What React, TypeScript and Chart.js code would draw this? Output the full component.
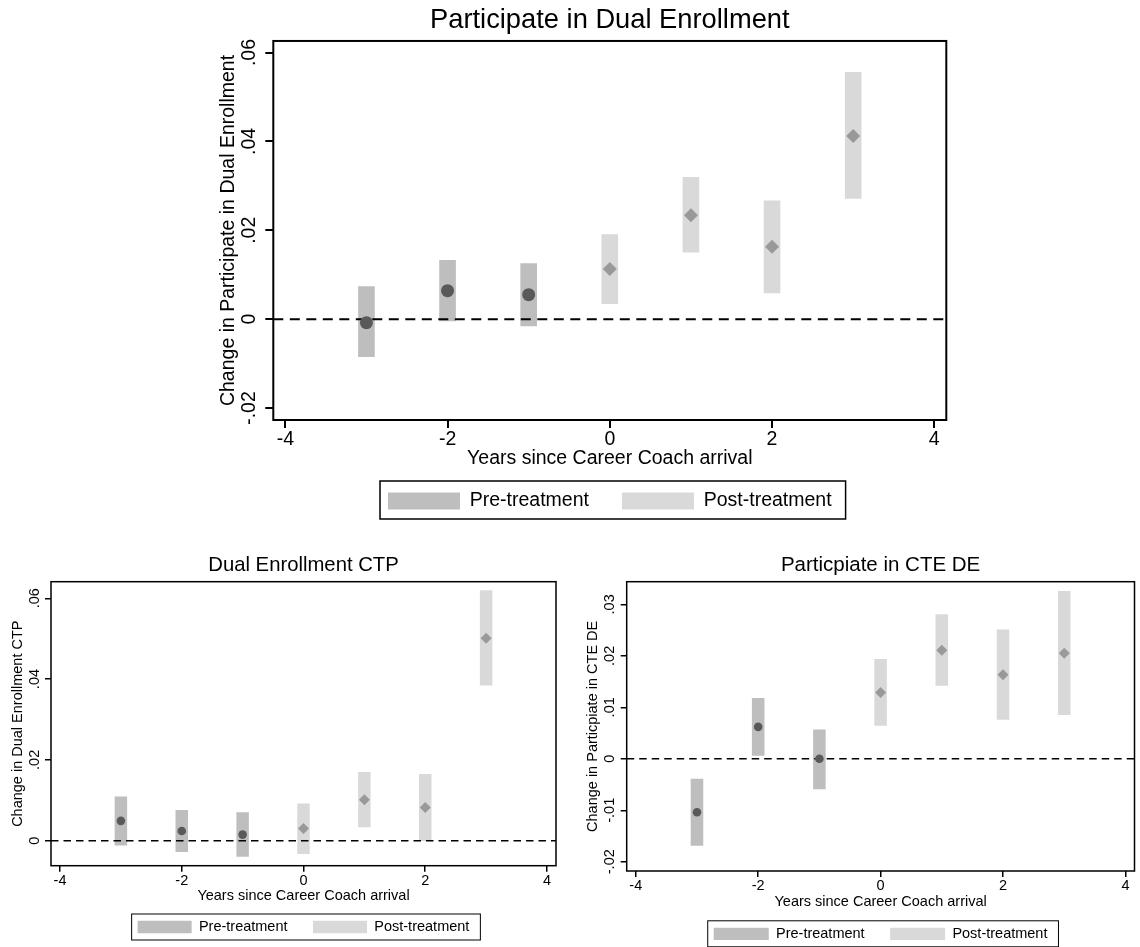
import React, { useEffect, useRef } from "react";
import { Chart, registerables } from "chart.js";

Chart.register(...registerables);

// ---------------- data ----------------
const YEARS_PRE = [-3, -2, -1];
const YEARS_POST = [0, 1, 2, 3];
const X_TICKS = [-4, -2, 0, 2, 4];
const X_TICK_LABELS = ["-4", "-2", "0", "2", "4"];
const X_TITLE = "Years since Career Coach arrival";
const LEGEND_LABELS = ["Pre-treatment", "Post-treatment"];

// Panel 1: Participate in Dual Enrollment
const DE_PRE_EST = [-0.0008, 0.0064, 0.0055];
const DE_PRE_LO = [-0.0085, -0.0005, -0.0016];
const DE_PRE_HI = [0.0074, 0.0133, 0.0126];
const DE_POST_EST = [0.0113, 0.0234, 0.0163, 0.0412];
const DE_POST_LO = [0.0034, 0.015, 0.0058, 0.0271];
const DE_POST_HI = [0.0191, 0.032, 0.0267, 0.0556];
const DE_Y_TICKS = [-0.02, 0, 0.02, 0.04, 0.06];
const DE_Y_LABELS = ["-.02", "0", ".02", ".04", ".06"];

// Panel 2: Dual Enrollment CTP
const CTP_PRE_EST = [0.0049, 0.0024, 0.0015];
const CTP_PRE_LO = [-0.0012, -0.0028, -0.004];
const CTP_PRE_HI = [0.0109, 0.0076, 0.007];
const CTP_POST_EST = [0.003, 0.0101, 0.0082, 0.0501];
const CTP_POST_LO = [-0.0033, 0.0033, -0.0001, 0.0384];
const CTP_POST_HI = [0.0092, 0.017, 0.0165, 0.062];
const CTP_Y_TICKS = [0, 0.02, 0.04, 0.06];
const CTP_Y_LABELS = ["0", ".02", ".04", ".06"];

// Panel 3: Particpiate in CTE DE
const CTE_PRE_EST = [-0.0104, 0.0062, 0.0];
const CTE_PRE_LO = [-0.0169, 0.0006, -0.0059];
const CTE_PRE_HI = [-0.0039, 0.0118, 0.0057];
const CTE_POST_EST = [0.0129, 0.0211, 0.0163, 0.0205];
const CTE_POST_LO = [0.0064, 0.0142, 0.0076, 0.0085];
const CTE_POST_HI = [0.0194, 0.0281, 0.0251, 0.0326];
const CTE_Y_TICKS = [-0.02, -0.01, 0, 0.01, 0.02, 0.03];
const CTE_Y_LABELS = ["-.02", "-.01", "0", ".01", ".02", ".03"];

// ---------------- styles ----------------
const FONT = "'Liberation Sans', Arial, Helvetica, sans-serif";
const PRE_BAR = "#bebebe";
const POST_BAR = "#d9d9d9";
const PRE_PT = "#595959";
const POST_PT = "#999999";
const X_MIN = -4.148;
const X_MAX = 4.148;

type PanelCfg = {
  box: { x: number; y: number; w: number; h: number };
  pad: { left: number; right: number; top: number; bottom: number };
  title: string;
  titleSize: number;
  titlePadTop: number;
  titlePadBottom: number;
  yTitle: string;
  axisFont: number;
  yMin: number;
  yMax: number;
  yTicks: number[];
  yLabels: string[];
  yAxisWidth: number;
  yTitlePad: number;
  yTickLen: number;
  yTickPad: number;
  xAxisHeight: number;
  xTickLen: number;
  xTickPad: number;
  xTitlePadBottom: number;
  legBoxW: number;
  legBoxH: number;
  legPad: number;
  legMaxH?: number;
  legMargin: { l: number; r: number; t: number; b: number };
  legLine: number;
  frameW: number;
  dash: number[];
  dashW: number;
  circleR: number;
  diamondR: number;
  preEst: number[];
  preLo: number[];
  preHi: number[];
  postEst: number[];
  postLo: number[];
  postHi: number[];
};

const decorPlugin = {
  id: "stataDecor",
  beforeDatasetsDraw(chart: any) {
    chart.$zeroDrawn = false;
  },
  beforeDatasetDraw(chart: any, args: any, opts: any) {
    if (args.meta.type === "scatter" && !chart.$zeroDrawn) {
      chart.$zeroDrawn = true;
      const { ctx, chartArea } = chart;
      const y = chart.scales.y.getPixelForValue(0);
      ctx.save();
      ctx.beginPath();
      ctx.rect(chartArea.left, chartArea.top, chartArea.right - chartArea.left, chartArea.bottom - chartArea.top);
      ctx.clip();
      ctx.strokeStyle = "#000";
      ctx.lineWidth = opts.dashW;
      ctx.setLineDash(opts.dash);
      ctx.beginPath();
      ctx.moveTo(chartArea.left, y);
      ctx.lineTo(chartArea.right, y);
      ctx.stroke();
      ctx.restore();
    }
  },
  afterDraw(chart: any, _args: any, opts: any) {
    const { ctx, chartArea } = chart;
    ctx.save();
    ctx.strokeStyle = "#000";
    ctx.lineWidth = opts.frameW;
    ctx.strokeRect(chartArea.left, chartArea.top, chartArea.right - chartArea.left, chartArea.bottom - chartArea.top);
    const hb = chart.legend && chart.legend.legendHitBoxes;
    if (hb && hb.length) {
      let l = Infinity;
      let r = -Infinity;
      let t = Infinity;
      let b = -Infinity;
      for (const h of hb) {
        l = Math.min(l, h.left);
        r = Math.max(r, h.left + h.width);
        t = Math.min(t, h.top + h.height / 2);
        b = Math.max(b, h.top + h.height / 2);
      }
      const m = opts.legMargin;
      ctx.lineWidth = opts.legLine;
      ctx.strokeRect(l - m.l, t - m.t, r - l + m.l + m.r, b - t + m.t + m.b);
    }
    ctx.restore();
  },
};

function buildConfig(p: PanelCfg): any {
  const preBars = YEARS_PRE.map((x, i) => ({ x, y: [p.preLo[i], p.preHi[i]] }));
  const postBars = YEARS_POST.map((x, i) => ({ x, y: [p.postLo[i], p.postHi[i]] }));
  const prePts = YEARS_PRE.map((x, i) => ({ x, y: p.preEst[i] }));
  const postPts = YEARS_POST.map((x, i) => ({ x, y: p.postEst[i] }));
  const axisFont = { size: p.axisFont, family: FONT, weight: "normal" as const };
  return {
    type: "bar",
    data: {
      datasets: [
        {
          label: LEGEND_LABELS[0],
          data: preBars,
          backgroundColor: PRE_BAR,
          borderWidth: 0,
          grouped: false,
          barPercentage: 0.205,
          categoryPercentage: 1,
          order: 2,
        },
        {
          label: LEGEND_LABELS[1],
          data: postBars,
          backgroundColor: POST_BAR,
          borderWidth: 0,
          grouped: false,
          barPercentage: 0.205,
          categoryPercentage: 1,
          order: 2,
        },
        {
          type: "scatter",
          label: "pre-est",
          data: prePts,
          pointStyle: "circle",
          pointRadius: p.circleR,
          backgroundColor: PRE_PT,
          pointBackgroundColor: PRE_PT,
          borderWidth: 0,
          pointBorderWidth: 0,
          order: 1,
        },
        {
          type: "scatter",
          label: "post-est",
          data: postPts,
          pointStyle: "rectRot",
          pointRadius: p.diamondR,
          backgroundColor: POST_PT,
          pointBackgroundColor: POST_PT,
          borderWidth: 0,
          pointBorderWidth: 0,
          order: 1,
        },
      ],
    },
    options: {
      responsive: false,
      animation: false,
      devicePixelRatio: 1,
      events: [],
      layout: { padding: p.pad },
      scales: {
        x: {
          type: "linear",
          min: X_MIN,
          max: X_MAX,
          offset: false,
          afterBuildTicks: (s: any) => {
            s.ticks = X_TICKS.map((v) => ({ value: v }));
          },
          afterFit: (s: any) => {
            s.height = p.xAxisHeight;
          },
          ticks: {
            autoSkip: false,
            minRotation: 0,
            maxRotation: 0,
            padding: p.xTickPad,
            color: "#000",
            font: axisFont,
            callback: (v: any) => X_TICK_LABELS[X_TICKS.indexOf(Number(v))],
          },
          grid: {
            display: true,
            drawOnChartArea: false,
            drawTicks: true,
            tickLength: p.xTickLen,
            color: "#000",
            lineWidth: p.frameW,
            offset: false,
          },
          border: { display: false },
          title: {
            display: true,
            text: X_TITLE,
            color: "#000",
            font: axisFont,
            padding: { top: 0, bottom: p.xTitlePadBottom },
          },
        },
        y: {
          type: "linear",
          min: p.yMin,
          max: p.yMax,
          afterBuildTicks: (s: any) => {
            s.ticks = p.yTicks.map((v) => ({ value: v }));
          },
          afterFit: (s: any) => {
            s.width = p.yAxisWidth;
          },
          ticks: {
            autoSkip: false,
            minRotation: 90,
            maxRotation: 90,
            crossAlign: "center",
            padding: p.yTickPad,
            color: "#000",
            font: axisFont,
            callback: (v: any) => {
              const i = p.yTicks.findIndex((t) => Math.abs(t - Number(v)) < 1e-9);
              return i >= 0 ? p.yLabels[i] : "";
            },
          },
          grid: {
            display: true,
            drawOnChartArea: false,
            drawTicks: true,
            tickLength: p.yTickLen,
            color: "#000",
            lineWidth: p.frameW,
          },
          border: { display: false },
          title: {
            display: true,
            text: p.yTitle,
            color: "#000",
            font: axisFont,
            padding: { top: p.yTitlePad, bottom: 0 },
          },
        },
      },
      plugins: {
        tooltip: { enabled: false },
        title: {
          display: true,
          text: p.title,
          fullSize: false,
          color: "#000",
          font: { size: p.titleSize, family: FONT, weight: "normal" },
          padding: { top: p.titlePadTop, bottom: p.titlePadBottom },
        },
        legend: {
          display: true,
          position: "bottom",
          fullSize: false,
          maxHeight: p.legMaxH,
          labels: {
            boxWidth: p.legBoxW,
            boxHeight: p.legBoxH,
            padding: p.legPad,
            color: "#000",
            font: { size: p.axisFont, family: FONT, weight: "normal" },
            filter: (item: any) => item.datasetIndex < 2,
          },
        },
        stataDecor: {
          frameW: p.frameW,
          dash: p.dash,
          dashW: p.dashW,
          legMargin: p.legMargin,
          legLine: p.legLine,
        },
      },
    },
    plugins: [decorPlugin],
  };
}

const PANEL_TOP: PanelCfg = {
  box: { x: 200, y: 0, w: 760, h: 521 },
  pad: { left: 0, right: 13.7, top: 0, bottom: 0.25 },
  title: "Participate in Dual Enrollment",
  titleSize: 27.3,
  titlePadTop: 3.7,
  titlePadBottom: 4.5,
  yTitle: "Change in Participate in Dual Enrollment",
  axisFont: 19.5,
  yMin: -0.0227,
  yMax: 0.0626,
  yTicks: DE_Y_TICKS,
  yLabels: DE_Y_LABELS,
  yAxisWidth: 73.3,
  yTitlePad: 16.5,
  yTickLen: 8,
  yTickPad: -1,
  xAxisHeight: 38.25,
  xTickLen: 8,
  xTickPad: 0,
  xTitlePadBottom: -12.45,
  legBoxW: 72,
  legBoxH: 17,
  legPad: 33,
  legMargin: { l: 8, r: 14, t: 20, b: 18 },
  legLine: 1.5,
  frameW: 2,
  dash: [10, 6.5],
  dashW: 2,
  circleR: 6.5,
  diamondR: 7,
  preEst: DE_PRE_EST,
  preLo: DE_PRE_LO,
  preHi: DE_PRE_HI,
  postEst: DE_POST_EST,
  postLo: DE_POST_LO,
  postHi: DE_POST_HI,
};

const PANEL_CTP: PanelCfg = {
  box: { x: 0, y: 540, w: 570, h: 405 },
  pad: { left: 0, right: 14, top: 0, bottom: 0.75 },
  title: "Dual Enrollment CTP",
  titleSize: 20.3,
  titlePadTop: 13.62,
  titlePadBottom: 3.72,
  yTitle: "Change in Dual Enrollment CTP",
  axisFont: 14.5,
  yMin: -0.0062,
  yMax: 0.0641,
  yTicks: CTP_Y_TICKS,
  yLabels: CTP_Y_LABELS,
  yAxisWidth: 51,
  yTitlePad: 8.8,
  yTickLen: 6,
  yTickPad: 0,
  xAxisHeight: 28.55,
  xTickLen: 6,
  xTickPad: 1,
  xTitlePadBottom: -10.45,
  legBoxW: 54,
  legBoxH: 12.3,
  legPad: 25.5,
  legMargin: { l: 6, r: 11, t: 13, b: 13 },
  legLine: 1,
  frameW: 1.5,
  dash: [7.5, 5],
  dashW: 1.5,
  circleR: 4.3,
  diamondR: 5.5,
  preEst: CTP_PRE_EST,
  preLo: CTP_PRE_LO,
  preHi: CTP_PRE_HI,
  postEst: CTP_POST_EST,
  postLo: CTP_POST_LO,
  postHi: CTP_POST_HI,
};

const PANEL_CTE: PanelCfg = {
  box: { x: 570, y: 540, w: 570, h: 407 },
  pad: { left: 0, right: 1, top: 0, bottom: 0 },
  title: "Particpiate in CTE DE",
  titleSize: 20.5,
  titlePadTop: 13.5,
  titlePadBottom: 3.6,
  yTitle: "Change in Particpiate in CTE DE",
  axisFont: 14.5,
  yMin: -0.0218,
  yMax: 0.0344,
  yTicks: CTE_Y_TICKS,
  yLabels: CTE_Y_LABELS,
  yAxisWidth: 56.7,
  yTitlePad: 14.5,
  yTickLen: 6,
  yTickPad: -2,
  xAxisHeight: 30.05,
  xTickLen: 6,
  xTickPad: 0,
  xTitlePadBottom: -9.65,
  legBoxW: 55,
  legBoxH: 12.3,
  legPad: 25.5,
  legMaxH: 45.95,
  legMargin: { l: 6, r: 11, t: 13, b: 13 },
  legLine: 1,
  frameW: 1.5,
  dash: [7.5, 5],
  dashW: 1.5,
  circleR: 4.3,
  diamondR: 5.5,
  preEst: CTE_PRE_EST,
  preLo: CTE_PRE_LO,
  preHi: CTE_PRE_HI,
  postEst: CTE_POST_EST,
  postLo: CTE_POST_LO,
  postHi: CTE_POST_HI,
};

function Panel({ cfg }: { cfg: PanelCfg }) {
  const ref = useRef<HTMLCanvasElement | null>(null);
  useEffect(() => {
    const canvas = ref.current;
    if (!canvas) return;
    const chart = new Chart(canvas, buildConfig(cfg));
    return () => chart.destroy();
  }, [cfg]);
  return (
    <canvas
      ref={ref}
      width={cfg.box.w}
      height={cfg.box.h}
      style={{
        position: "absolute",
        left: cfg.box.x,
        top: cfg.box.y,
        width: cfg.box.w,
        height: cfg.box.h,
      }}
    />
  );
}

export default function App() {
  useEffect(() => {
    document.documentElement.style.overflow = "hidden";
    document.body.style.overflow = "hidden";
  }, []);
  return (
    <div
      style={{
        position: "absolute",
        left: 0,
        top: 0,
        width: 1140,
        height: 947,
        background: "#ffffff",
        overflow: "hidden",
      }}
    >
      <Panel cfg={PANEL_TOP} />
      <Panel cfg={PANEL_CTP} />
      <Panel cfg={PANEL_CTE} />
    </div>
  );
}
